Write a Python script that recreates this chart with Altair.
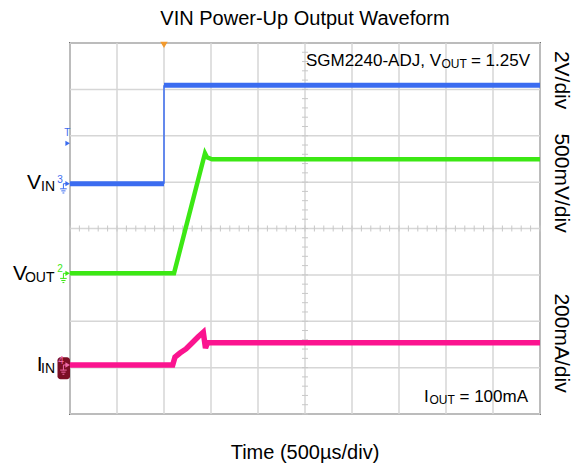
import altair as alt
import pandas as pd

FONT = "Liberation Sans"

# ---------------- data (time in divisions of 500 us; level in vertical divisions) -------------
GRID_X = list(range(0, 11))
GRID_Y = list(range(0, 9))

VIN_LOW_T = [0.0, 1.97, 2.0]
VIN_LOW_V = [4.966, 4.966, 4.966]
VIN_HIGH_T = [2.0, 10.0]
VIN_HIGH_V = [7.088, 7.088]
VIN_STEP_T = [2.0]

VOUT_T = [0.0, 2.213, 2.872, 2.915, 3.021, 10.0]
VOUT_V = [3.034, 3.034, 5.622, 5.535, 5.492, 5.492]

IIN_T = [0.0, 2.185, 2.234, 2.340, 2.468, 2.596, 2.723, 2.836, 2.883, 2.926, 10.0]
IIN_V = [1.057, 1.057, 1.229, 1.315, 1.402, 1.531, 1.660, 1.762, 1.423, 1.537, 1.537]

TRIGGER_T = 2.0

C_BLUE = "#3b6cf0"
C_GREEN = "#3ce814"
C_PINK = "#fb148f"
C_GRID = "#d6d6d6"

XS = alt.Scale(domain=[0, 10], nice=False, zero=False)
YS = alt.Scale(domain=[0, 8], nice=False, zero=False)


def X(f="x"):
    return alt.X(f"{f}:Q", scale=XS, axis=None)


def Y(f="y"):
    return alt.Y(f"{f}:Q", scale=YS, axis=None)


def rules(df, color, width):
    return alt.Chart(df).mark_rule(color=color, strokeWidth=width).encode(
        x=X(), x2="x2:Q", y=Y(), y2="y2:Q"
    )


# ---------------- grid ----------------
n = len(GRID_X)
grid_v = rules(pd.DataFrame({"x": GRID_X, "x2": GRID_X, "y": [0] * n, "y2": [8] * n}), C_GRID, 1.5)
m = len(GRID_Y)
grid_h = rules(pd.DataFrame({"y": GRID_Y, "y2": GRID_Y, "x": [0] * m, "x2": [10] * m}), C_GRID, 1.5)

minor_x = [i * 0.2 for i in range(51)]
minor_y = [i * 0.2 for i in range(41)]
ticks_h = rules(pd.DataFrame({"x": minor_x, "x2": minor_x, "y": [3.935] * 51, "y2": [4.065] * 51}), "#c8c8c8", 1)
ticks_v = rules(pd.DataFrame({"y": minor_y, "y2": minor_y, "x": [4.936] * 41, "x2": [5.064] * 41}), "#c8c8c8", 1)


# ---------------- traces ----------------
def trace(ts, vs, color, width):
    df = pd.DataFrame({"x": ts, "y": vs, "o": list(range(len(ts)))})
    return alt.Chart(df).mark_line(color=color, strokeWidth=width, strokeJoin="miter").encode(
        x=X(), y=Y(), order="o:Q"
    )


vin_low = trace(VIN_LOW_T, VIN_LOW_V, C_BLUE, 5)
vin_high = trace(VIN_HIGH_T, VIN_HIGH_V, C_BLUE, 5)
vin_step = rules(pd.DataFrame({"x": VIN_STEP_T, "x2": VIN_STEP_T, "y": VIN_LOW_V[:1], "y2": VIN_HIGH_V[:1]}), C_BLUE, 1.5)
vout = trace(VOUT_T, VOUT_V, C_GREEN, 4.5)
iin = trace(IIN_T, IIN_V, C_PINK, 5.5)

# ---------------- markers ----------------
trig = alt.Chart(pd.DataFrame({"x": [TRIGGER_T], "y": [7.96]})).mark_point(
    shape="triangle-down", filled=True, color="#f29a2e", size=55, opacity=1
).encode(x=X(), y=Y())

iin_box = alt.Chart(pd.DataFrame({"x": [-0.266], "x2": [0.0], "y": [0.748], "y2": [1.223]})).mark_rect(
    color="#7b0f25", cornerRadius=3
).encode(x=X(), x2="x2:Q", y=Y(), y2="y2:Q")

arrows = alt.Chart(pd.DataFrame({
    "x": [-0.05, -0.05, -0.05, -0.05],
    "y": [VIN_LOW_V[0], VOUT_V[0], IIN_V[0], 5.837],
    "c": [C_BLUE, C_GREEN, "#f06aa8", C_BLUE],
})).mark_point(shape="triangle-right", filled=True, size=28, opacity=1).encode(
    x=X(), y=Y(), color=alt.Color("c:N", scale=None)
)

# ground symbols (x in divisions, y in divisions)
g_rows = []
for gx, gy, col in [(-0.14, VIN_LOW_V[0], C_BLUE), (-0.14, VOUT_V[0], C_GREEN), (-0.14, IIN_V[0], "#f06aa8")]:
    g_rows.append((gx, gx, gy, gy - 0.11, col))
    g_rows.append((gx - 0.07, gx + 0.07, gy - 0.11, gy - 0.11, col))
    g_rows.append((gx - 0.045, gx + 0.045, gy - 0.155, gy - 0.155, col))
    g_rows.append((gx - 0.02, gx + 0.02, gy - 0.2, gy - 0.2, col))
    g_rows.append((gx, -0.05, gy, gy, col))
gdf = pd.DataFrame(g_rows, columns=["x", "x2", "y", "y2", "c"])
ground = alt.Chart(gdf).mark_rule(strokeWidth=1).encode(
    x=X(), x2="x2:Q", y=Y(), y2="y2:Q", color=alt.Color("c:N", scale=None)
)


# ---------------- text ----------------
def txt(label, x, y, size, align="left", baseline="alphabetic", color="black", angle=None):
    df = pd.DataFrame({"label": [label], "x": [x], "y": [y]})
    kw = dict(align=align, baseline=baseline, fontSize=size, font=FONT, color=color)
    if angle is not None:
        kw["angle"] = angle
    return alt.Chart(df).mark_text(**kw).encode(x=X(), y=Y(), text="label:N")


texts = [
    txt("VIN Power-Up Output Waveform", 5.0, 8.39, 20, align="center"),
    txt("Time (500µs/div)", 5.0, -0.96, 20, align="center"),
    # right-side scale labels
    txt("2V/div", 10.447, 7.20, 21, align="center", baseline="middle", angle=90),
    txt("500mV/div", 10.447, 4.98, 21, align="center", baseline="middle", angle=90),
    txt("200mA/div", 10.447, 1.53, 21, align="center", baseline="middle", angle=90),
    # inside annotations
    txt("SGM2240-ADJ, V", 7.894, 7.504, 17, align="right"),
    txt("OUT", 7.904, 7.46, 12, align="left"),
    txt("= 1.25V", 8.53, 7.504, 17, align="left"),
    txt("I", 7.532, 0.265, 17, align="left"),
    txt("OUT", 7.649, 0.225, 12, align="left"),
    txt("= 100mA", 8.287, 0.265, 17, align="left"),
    # channel labels
    txt("V", -0.617, 4.845, 21, align="right"),
    txt("IN", -0.319, 4.80, 14, align="right"),
    txt("V", -0.915, 2.889, 21, align="right"),
    txt("OUT", -0.330, 2.853, 14, align="right"),
    txt("I", -0.585, 0.93, 21, align="right"),
    txt("IN", -0.319, 0.89, 14, align="right"),
    # channel digits / trigger letter
    txt("3", -0.21, 4.99, 10, align="center", color=C_BLUE),
    txt("2", -0.21, 3.06, 10, align="center", color=C_GREEN),
    txt("4", -0.19, 1.08, 10, align="center", color="#f06aa8"),
    txt("T", -0.06, 5.99, 10, align="center", color=C_BLUE),
]

chart = alt.layer(
    grid_v, grid_h, ticks_h, ticks_v,
    iin, vout, vin_low, vin_high, vin_step,
    iin_box, ground, arrows, trig,
    *texts,
).properties(
    width=470,
    height=371,
    padding={"left": 62, "top": 35, "right": 34, "bottom": 56},
    autosize=alt.AutoSizeParams(type="none"),
).configure_view(stroke="#707070", strokeWidth=2)

chart.save("out.html", embed_options={"renderer": "svg", "actions": False})
